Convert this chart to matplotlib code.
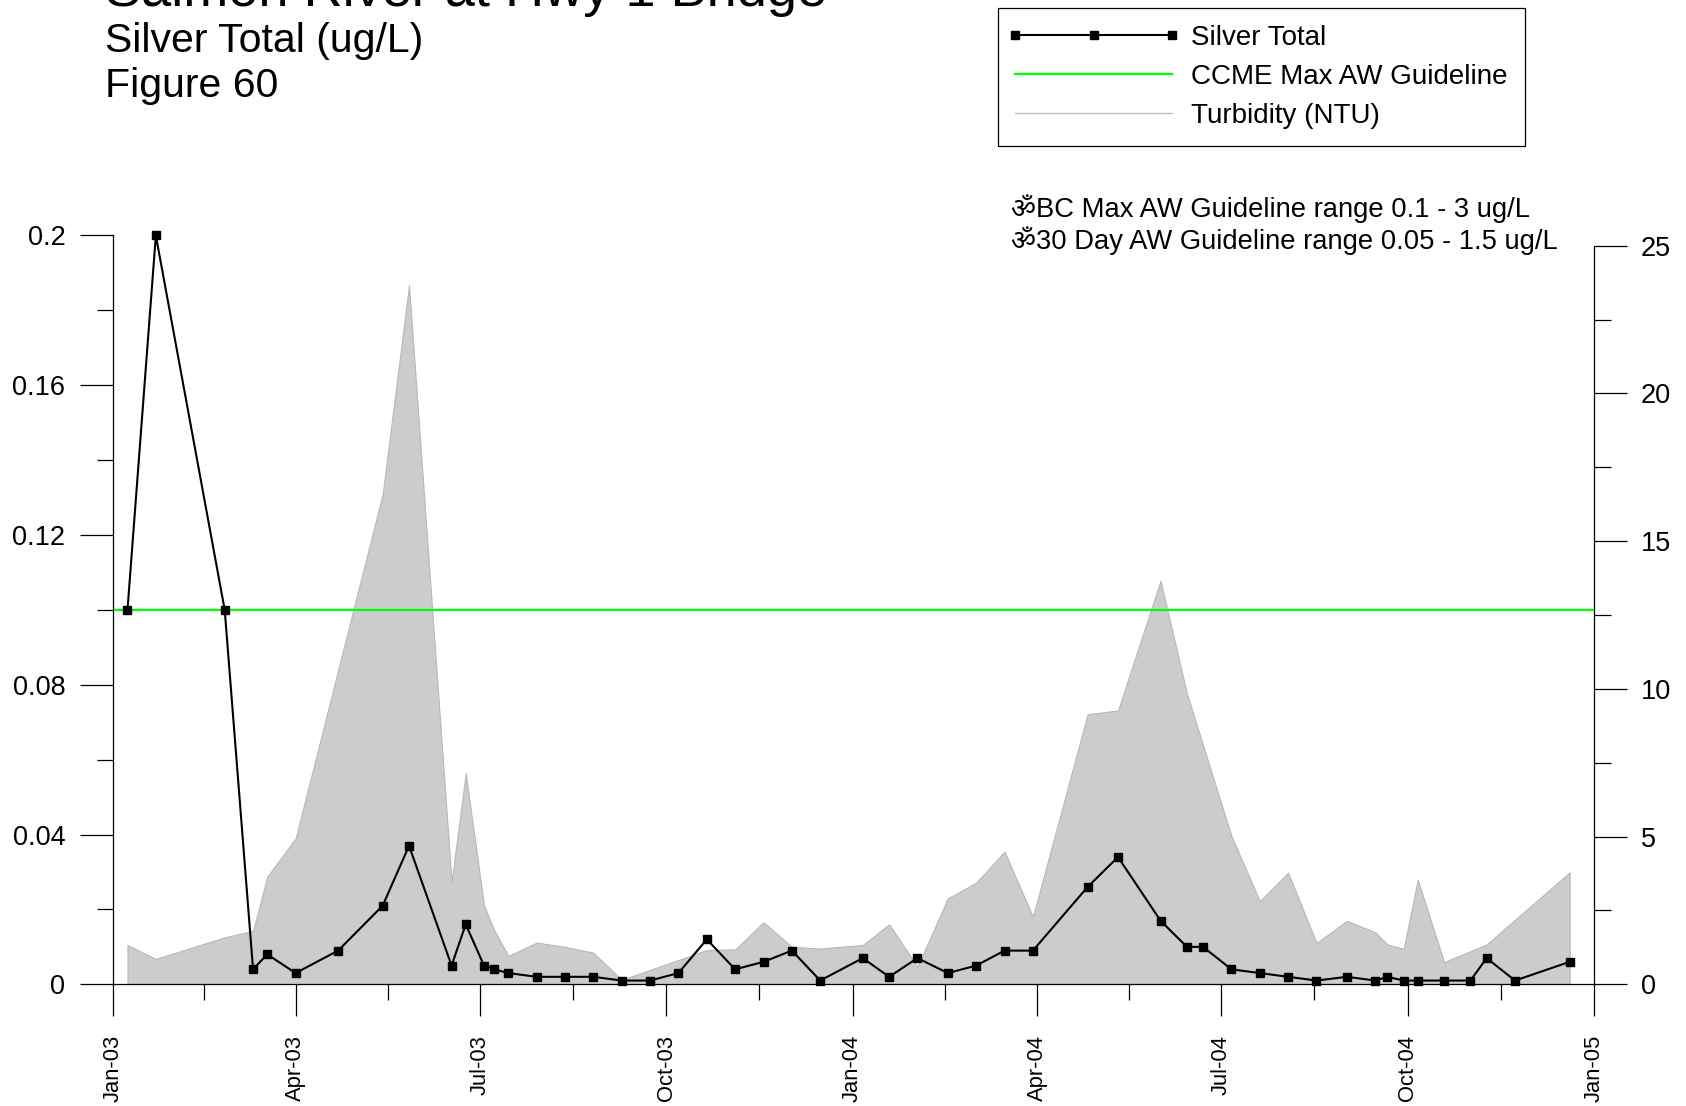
import matplotlib
matplotlib.use("Agg")
import matplotlib.pyplot as plt
import matplotlib.dates as mdates
from matplotlib.lines import Line2D
from matplotlib.legend_handler import HandlerLine2D
import numpy as np
import pandas as pd

plt.rcParams['font.family'] = ['Liberation Sans', 'DejaVu Sans', 'Noto Sans']

# ---------------- data ----------------
silver_dates = [
    "2003-01-08", "2003-01-22", "2003-02-25", "2003-03-11", "2003-03-18", "2003-04-01",
    "2003-04-22", "2003-05-14", "2003-05-27", "2003-06-17", "2003-06-24", "2003-07-03",
    "2003-07-08", "2003-07-15", "2003-07-29", "2003-08-12", "2003-08-26", "2003-09-09",
    "2003-09-23", "2003-10-07", "2003-10-21", "2003-11-04", "2003-11-18", "2003-12-02",
    "2003-12-16", "2004-01-06", "2004-01-19", "2004-02-02", "2004-02-17", "2004-03-02",
    "2004-03-16", "2004-03-30", "2004-04-26", "2004-05-11", "2004-06-01", "2004-06-14",
    "2004-06-22", "2004-07-06", "2004-07-20", "2004-08-03", "2004-08-17", "2004-09-01",
    "2004-09-15", "2004-09-21", "2004-09-29", "2004-10-06", "2004-10-19", "2004-11-01",
    "2004-11-09", "2004-11-23", "2004-12-20",
]
silver_values = [
    0.1, 0.2, 0.1, 0.004, 0.008, 0.003,
    0.009, 0.021, 0.037, 0.005, 0.016, 0.005,
    0.004, 0.003, 0.002, 0.002, 0.002, 0.001,
    0.001, 0.003, 0.012, 0.004, 0.006, 0.009,
    0.001, 0.007, 0.002, 0.007, 0.003, 0.005,
    0.009, 0.009, 0.026, 0.034, 0.017, 0.010,
    0.010, 0.004, 0.003, 0.002, 0.001, 0.002,
    0.001, 0.002, 0.001, 0.001, 0.001, 0.001,
    0.007, 0.001, 0.006,
]

turb_dates = [
    "2003-01-08", "2003-01-22", "2003-02-25", "2003-03-11", "2003-03-18", "2003-04-01",
    "2003-05-14", "2003-05-27", "2003-06-17", "2003-06-24", "2003-07-03", "2003-07-08",
    "2003-07-15", "2003-07-29", "2003-08-12", "2003-08-26", "2003-09-09", "2003-10-21",
    "2003-11-04", "2003-11-18", "2003-12-02", "2003-12-16", "2004-01-06", "2004-01-19",
    "2004-02-02", "2004-02-17", "2004-03-02", "2004-03-16", "2004-03-30", "2004-04-26",
    "2004-05-11", "2004-06-01", "2004-06-14", "2004-07-06", "2004-07-20", "2004-08-03",
    "2004-08-17", "2004-09-01", "2004-09-15", "2004-09-21", "2004-09-29", "2004-10-06",
    "2004-10-19", "2004-11-09", "2004-12-20",
]
turb_values = [
    1.33, 0.86, 1.59, 1.81, 3.64, 4.94,
    16.6, 23.66, 3.47, 7.14, 2.68, 1.84,
    0.96, 1.41, 1.27, 1.07, 0.15, 1.16,
    1.18, 2.10, 1.27, 1.21, 1.33, 2.03,
    0.60, 2.91, 3.44, 4.49, 2.29, 9.14,
    9.27, 13.66, 9.85, 5.02, 2.82, 3.78,
    1.40, 2.15, 1.76, 1.35, 1.20, 3.54,
    0.75, 1.35, 3.79,
]

ccme_guideline = 0.1

title_lines = ["Salmon River at Hwy 1 Bridge", "Silver Total (ug/L)", "Figure 60"]
legend_labels = ["Silver Total", "CCME Max AW Guideline", "Turbidity (NTU)"]
note_lines = ["\u0950BC Max AW Guideline range 0.1 - 3 ug/L",
              "\u095030 Day AW Guideline range 0.05 - 1.5 ug/L"]

left_ticks = [0, 0.04, 0.08, 0.12, 0.16, 0.2]
left_tick_labels = ["0", "0.04", "0.08", "0.12", "0.16", "0.2"]
right_ticks = [0, 5, 10, 15, 20, 25]

# ---------------- figure ----------------
W, H = 1686, 1106
fig = plt.figure(figsize=(W / 100, H / 100), dpi=100)

x0, x1 = 113.3, 1594.0
y0, ytop = 984.3, 235.5
ax = fig.add_axes([x0 / W, 1 - y0 / H, (x1 - x0) / W, (y0 - ytop) / H])
ax2 = ax.twinx()

sd = pd.to_datetime(silver_dates)
td = pd.to_datetime(turb_dates)

# turbidity on right axis
ax2.fill_between(td, 0, turb_values, facecolor="#cccccc", edgecolor="#b8b8b8",
                 linewidth=0.8, zorder=1)
right_top25_px = 245.7
ax2.set_ylim(0, 25 * (y0 - ytop) / (y0 - right_top25_px))

# silver on left axis drawn above
ax.set_zorder(ax2.get_zorder() + 1)
ax.patch.set_visible(False)
ax.axhline(ccme_guideline, color="#00ff00", linewidth=1.6, zorder=2)
ax.plot(sd, silver_values, color="black", linewidth=1.5, marker="s",
        markersize=5.6, zorder=3, clip_on=False)

xmin, xmax = pd.Timestamp("2003-01-01"), pd.Timestamp("2005-01-01")
ax.set_xlim(xmin, xmax)
ax.set_ylim(0, 0.2)

# spines
for a in (ax, ax2):
    a.spines["top"].set_visible(False)
    for s in a.spines.values():
        s.set_linewidth(0.9)
ax.spines["right"].set_visible(False)
ax2.spines["left"].set_visible(False)
ax2.spines["bottom"].set_visible(False)
ax2.spines["right"].set_bounds(0, 25)

# x ticks
major = pd.date_range("2003-01-01", "2005-01-01", freq="QS")
ax.set_xticks(major)
ax.xaxis.set_major_formatter(mdates.DateFormatter("%b-%y"))
mnums = mdates.date2num(major)
ax.set_xticks((mnums[:-1] + mnums[1:]) / 2, minor=True)
ax.tick_params(axis="x", which="major", direction="out", length=23, width=0.9,
               pad=13.5, labelsize=15.8, labelrotation=90)
ax.tick_params(axis="x", which="minor", direction="out", length=11.5, width=0.9)

# left y ticks
ax.set_yticks(left_ticks)
ax.set_yticklabels(left_tick_labels)
ax.set_yticks(np.arange(0.02, 0.2, 0.04), minor=True)
ax.tick_params(axis="y", which="major", direction="out", length=23.5, width=0.9,
               pad=11, labelsize=19.5)
ax.tick_params(axis="y", which="minor", direction="out", length=11.5, width=0.9)

# right y ticks
ax2.set_yticks(right_ticks)
ax2.set_yticks(np.arange(2.5, 25, 5), minor=True)
ax2.tick_params(axis="y", which="major", direction="out", length=24, width=0.9,
                pad=9.5, labelsize=19.5)
ax2.tick_params(axis="y", which="minor", direction="out", length=12, width=0.9)

# titles
tx = 105.4 / W
fig.text(tx, 1 - 6 / H, title_lines[0], fontsize=39, va="baseline", ha="left")
fig.text(tx, 1 - 51.5 / H, title_lines[1], fontsize=29.5, va="baseline", ha="left")
fig.text(tx, 1 - 96.5 / H, title_lines[2], fontsize=29.5, va="baseline", ha="left")

# notes
note_family = ['Liberation Sans', 'DejaVu Sans', 'Noto Sans', 'Noto Sans CJK SC']
fig.text(1010.8 / W, 1 - 208.5 / H, note_lines[0], fontsize=19.7, va="center",
         ha="left", family=note_family)
fig.text(1010.8 / W, 1 - 240.8 / H, note_lines[1], fontsize=19.7, va="center",
         ha="left", family=note_family)

# legend
h_silver = Line2D([], [], color="black", linewidth=1.5, marker="s", markersize=5.6)
h_ccme = Line2D([], [], color="#00ff00", linewidth=1.6)
h_turb = Line2D([], [], color="#c0c0c0", linewidth=1.0)
leg = fig.legend([h_silver, h_ccme, h_turb], legend_labels,
                 loc="upper left", bbox_to_anchor=(997.9 / W, 1 - 7.5 / H),
                 fontsize=20, handlelength=5.65, handletextpad=0.68,
                 borderpad=0.62, labelspacing=0.47, borderaxespad=0,
                 fancybox=False, framealpha=1, edgecolor="black",
                 handler_map={h_silver: HandlerLine2D(numpoints=3, marker_pad=0)})
leg.get_frame().set_linewidth(0.9)

fig.savefig("out.png", dpi=100)
